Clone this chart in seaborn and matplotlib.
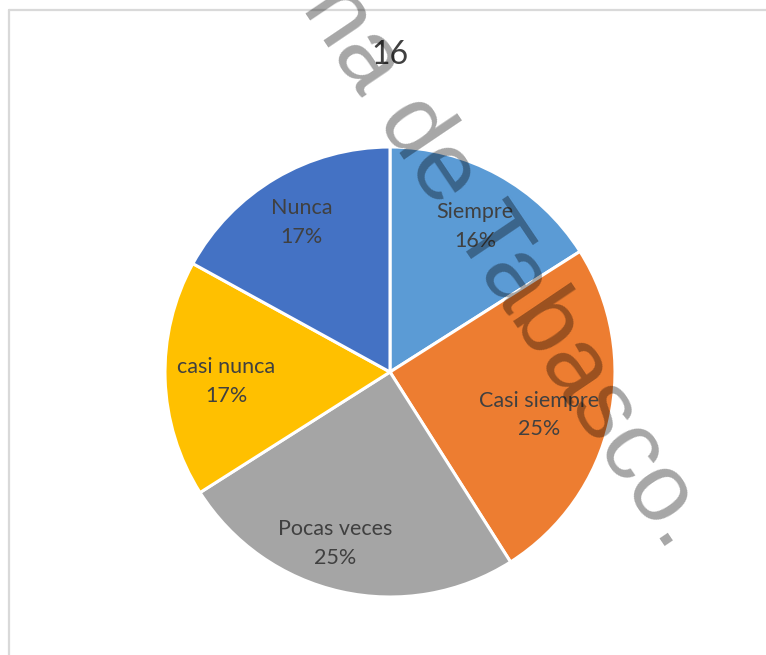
import matplotlib
matplotlib.use("Agg")
import matplotlib.pyplot as plt
from matplotlib.lines import Line2D
import numpy as np
import seaborn as sns

categories = ["Siempre", "Casi siempre", "Pocas veces", "casi nunca", "Nunca"]
values = [16, 25, 25, 17, 17]
colors = ["#5B9BD5", "#ED7D31", "#A5A5A5", "#FFC000", "#4472C4"]
# label placement: fraction of radius and small angular nudge (degrees)
label_radius = [0.75, 0.69, 0.80, 0.73, 0.77]
label_nudge = [-1.5, -3.5, -5.0, 1.5, 0.0]
title = "16"
watermark = "na de Tabasco."

sns.set_theme(style="white")
plt.rcParams["font.family"] = ["Lato", "DejaVu Sans"]

W, H = 766, 655
fig = plt.figure(figsize=(W / 100, H / 100), dpi=100)
fig.patch.set_facecolor("white")

# chart frame (open to the right and bottom)
fig.add_artist(Line2D([9 / W, 9 / W], [0, 1 - 10 / H], transform=fig.transFigure,
                      color="#D9D9D9", lw=1.6))
fig.add_artist(Line2D([9 / W, 1], [1 - 10 / H, 1 - 10 / H], transform=fig.transFigure,
                      color="#D9D9D9", lw=1.6))

cx, cy, R = 390, 372, 225
ax = fig.add_axes([(cx - R) / W, (H - cy - R) / H, 2 * R / W, 2 * R / H])
wedges, _ = ax.pie(values, colors=colors, startangle=90, counterclock=False,
                   radius=1.0,
                   wedgeprops=dict(edgecolor="white", linewidth=2.2))
ax.set_xlim(-1, 1)
ax.set_ylim(-1, 1)
ax.set_aspect("equal")
ax.axis("off")

for w, cat, v, r, dn in zip(wedges, categories, values, label_radius, label_nudge):
    ang = np.deg2rad((w.theta1 + w.theta2) / 2 + dn)
    ax.text(r * np.cos(ang), r * np.sin(ang), f"{cat}\n{v}%",
            ha="center", va="center", fontsize=15.5, color="#404040",
            linespacing=1.55, clip_on=False)

fig.text(cx / W, 1 - 55 / H, title, ha="center", va="center",
         fontsize=23, color="#404040")

fig.text(506 / W, 1 - 266 / H, watermark, ha="center", va="center",
         rotation=-56, rotation_mode="anchor", fontsize=70,
         family=["Liberation Sans", "DejaVu Sans"],
         color="black", alpha=0.35)

fig.savefig("out.png", dpi=100, facecolor="white")
